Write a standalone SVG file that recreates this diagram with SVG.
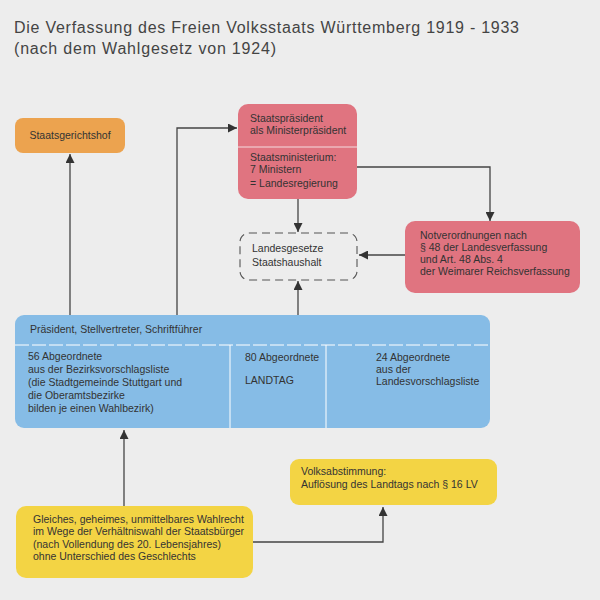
<svg xmlns="http://www.w3.org/2000/svg" width="600" height="600" viewBox="0 0 600 600">
<defs>
<style>
text{font-family:"Liberation Sans",Arial,sans-serif;fill:#333;}
.t{font-size:10.5px;}
.title{font-size:16px;fill:#444;}
.c{fill:none;stroke:#444;stroke-width:1.3;}
.orange{fill:#eca34f;}
.red{fill:#e07480;}
.blue{fill:#86bce6;}
.yellow{fill:#f3d444;}
</style>
<marker id="ah" viewBox="0 0 10 10" refX="10" refY="5" markerWidth="9" markerHeight="9" markerUnits="userSpaceOnUse" orient="auto">
<path d="M0,0 L10,5 L0,10 z" fill="#333"/>
</marker>
</defs>
<rect x="0" y="0" width="600" height="600" fill="#ededed"/>
<text class="title" x="14" y="33" textLength="505" lengthAdjust="spacing">Die Verfassung des Freien Volksstaats Württemberg 1919 - 1933</text>
<text class="title" x="14" y="54" textLength="262" lengthAdjust="spacing">(nach dem Wahlgesetz von 1924)</text>

<g id="connectors">
<path class="c" d="M70,315 V154" marker-end="url(#ah)"/>
<path class="c" d="M177,315 V128 H237" marker-end="url(#ah)"/>
<path class="c" d="M356,167 H490 V221" marker-end="url(#ah)"/>
<path class="c" d="M298,199 V232" marker-end="url(#ah)"/>
<path class="c" d="M298,315 V281" marker-end="url(#ah)"/>
<path class="c" d="M405,255 H359" marker-end="url(#ah)"/>
<path class="c" d="M177,358 H229" marker-end="url(#ah)"/>
<path class="c" d="M365,358 H328" marker-end="url(#ah)"/>
<path class="c" d="M124,506 V430" marker-end="url(#ah)"/>
<path class="c" d="M252,542 H383 V507" marker-end="url(#ah)"/>
</g>

<g id="staatsgerichtshof">
<rect class="orange" x="15" y="118" width="110" height="35" rx="8"/>
<text class="t" x="70" y="139" text-anchor="middle">Staatsgerichtshof</text>
</g>

<g id="regierung">
<rect class="red" x="238" y="104" width="119" height="95" rx="10"/>
<line x1="238" y1="147" x2="357" y2="147" stroke="#f4dde0" stroke-width="1"/>
<text class="t" x="250" y="122">Staatspräsident</text>
<text class="t" x="250" y="134">als Ministerpräsident</text>
<text class="t" x="250" y="161">Staatsministerium:</text>
<text class="t" x="250" y="173">7 Ministern</text>
<text class="t" x="250" y="187">= Landesregierung</text>
</g>

<g id="landesgesetze">
<rect x="240" y="233" width="117" height="47" rx="9" fill="none" stroke="#555" stroke-width="1.1" stroke-dasharray="8,5"/>
<text class="t" x="252" y="252">Landesgesetze</text>
<text class="t" x="252" y="266">Staatshaushalt</text>
</g>

<g id="notverordnungen">
<rect class="red" x="405" y="221" width="175" height="72" rx="10"/>
<text class="t" x="420" y="239">Notverordnungen nach</text>
<text class="t" x="420" y="251">§ 48 der Landesverfassung</text>
<text class="t" x="420" y="263">und Art. 48 Abs. 4</text>
<text class="t" x="420" y="275">der Weimarer Reichsverfassung</text>
</g>

<g id="landtag">
<rect class="blue" x="15" y="315" width="475" height="113" rx="9"/>
<line x1="15" y1="345" x2="490" y2="345" stroke="#fff" stroke-width="1" stroke-dasharray="14,3"/>
<line x1="230" y1="345" x2="230" y2="428" stroke="#fff" stroke-width="1"/>
<line x1="326" y1="345" x2="326" y2="428" stroke="#fff" stroke-width="1"/>
<text class="t" x="30" y="333">Präsident, Stellvertreter, Schriftführer</text>
<text class="t" x="28" y="360">56 Abgeordnete</text>
<text class="t" x="28" y="373">aus der Bezirksvorschlagsliste</text>
<text class="t" x="28" y="386">(die Stadtgemeinde Stuttgart und</text>
<text class="t" x="28" y="399">die Oberamtsbezirke</text>
<text class="t" x="28" y="412">bilden je einen Wahlbezirk)</text>
<text class="t" x="245" y="361">80 Abgeordnete</text>
<text class="t" x="245" y="384">LANDTAG</text>
<text class="t" x="376" y="361">24 Abgeordnete</text>
<text class="t" x="376" y="373">aus der</text>
<text class="t" x="376" y="385">Landesvorschlagsliste</text>
</g>

<g id="volksabstimmung">
<rect class="yellow" x="290" y="459" width="207" height="46" rx="9"/>
<text class="t" x="301" y="475">Volksabstimmung:</text>
<text class="t" x="301" y="488">Auflösung des Landtags nach § 16 LV</text>
</g>

<g id="wahlrecht">
<rect class="yellow" x="16" y="506" width="237" height="72" rx="10"/>
<text class="t" x="33" y="523">Gleiches, geheimes, unmittelbares Wahlrecht</text>
<text class="t" x="33" y="535">im Wege der Verhältniswahl der Staatsbürger</text>
<text class="t" x="33" y="548">(nach Vollendung des 20. Lebensjahres)</text>
<text class="t" x="33" y="560">ohne Unterschied des Geschlechts</text>
</g>
</svg>
